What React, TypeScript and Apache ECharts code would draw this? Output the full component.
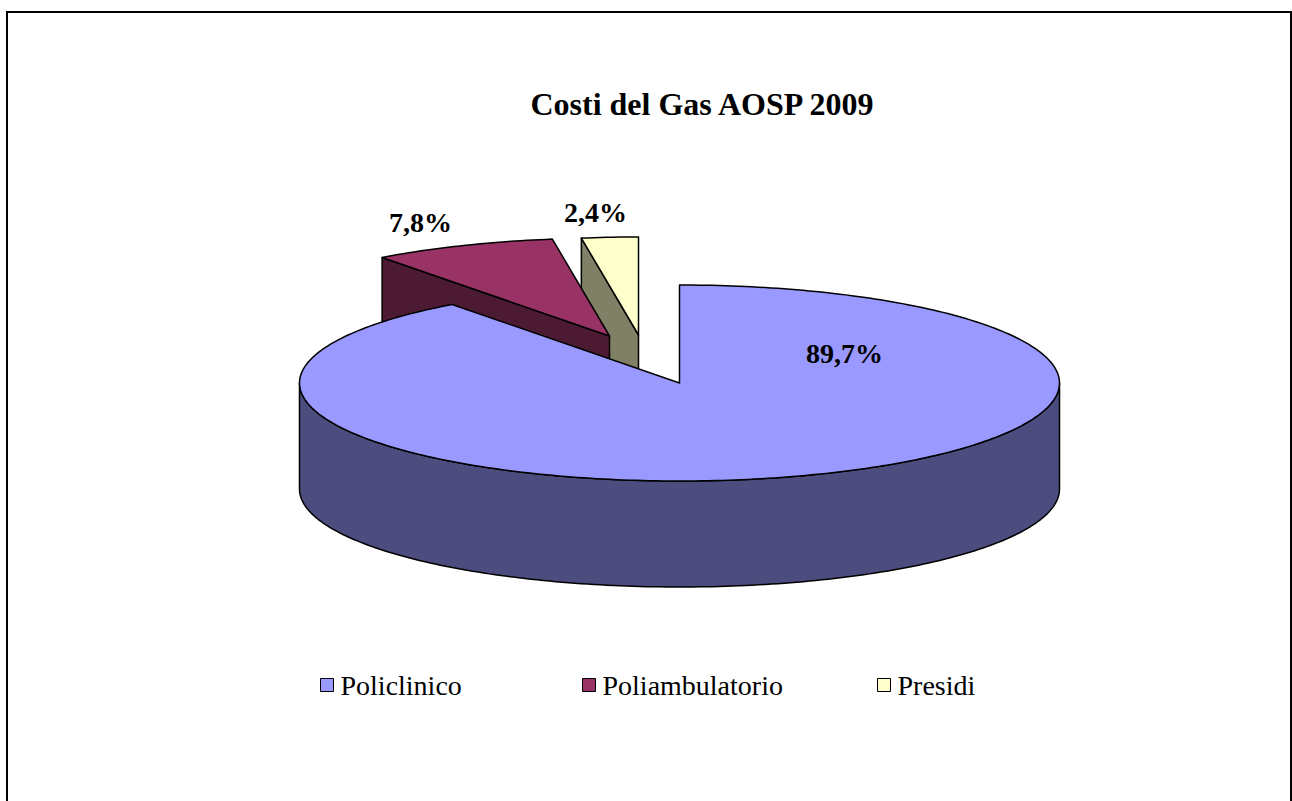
import React, { useEffect, useRef } from "react";
import * as echarts from "echarts";

// ---- data ----
const TITLE = "Costi del Gas AOSP 2009";
const CATEGORIES = ["Policlinico", "Poliambulatorio", "Presidi"];
const VALUES = [89.7, 7.8, 2.4];
const LABELS = ["89,7%", "7,8%", "2,4%"];

// ---- styles / layout ----
const TOP_COLORS = ["#9999FF", "#993366", "#FFFFCC"];
const SIDE_COLORS = ["#4C4C7F", "#4D1A33", "#808066"];
const EXPLODE = [
  [0, 0],
  [-70, -47],
  [-41, -48],
];
const LABEL_OFFSET = [
  [165, -30],
  [-189, -114],
  [-43, -123],
];
const LEGEND_LEFT = [320, 582, 877];
const CX = 679.5;
const CY = 383;
const RX = 380;
const RY = 98;
const DEPTH = 106;
const SERIF = "Liberation Serif";
const SERIF_LIST = "'Times New Roman', 'Liberation Serif', 'DejaVu Serif', serif";

function sliceAngles(idx: number) {
  const total = VALUES.reduce((a, b) => a + b, 0);
  let start = 0;
  for (let j = 0; j < idx; j++) start += (VALUES[j] / total) * Math.PI * 2;
  const end = start + (VALUES[idx] / total) * Math.PI * 2;
  return [start, end];
}

function makeRenderItem() {
  return (params: any, api: any) => {
    const i = api.value(0) as number;
    const [start, end] = sliceAngles(i);
    const ox = CX + EXPLODE[i][0];
    const oy = CY + EXPLODE[i][1];
    const pt = (t: number, dz = 0) => [ox + RX * Math.sin(t), oy - RY * Math.cos(t) + dz];
    const arc = (a: number, b: number, dz = 0) => {
      const n = Math.max(2, Math.ceil(((b - a) / (Math.PI * 2)) * 360));
      const pts: number[][] = [];
      for (let k = 0; k <= n; k++) pts.push(pt(a + ((b - a) * k) / n, dz));
      return pts;
    };
    const edge = { stroke: "#000", lineWidth: 1.5, lineJoin: "round" };
    const children: any[] = [];
    if (-Math.sin(start) > 1e-3) {
      children.push({
        type: "polygon",
        shape: { points: [[ox, oy], pt(start), pt(start, DEPTH), [ox, oy + DEPTH]] },
        style: { fill: SIDE_COLORS[i], ...edge },
      });
    }
    if (Math.sin(end) > 1e-3) {
      children.push({
        type: "polygon",
        shape: { points: [[ox, oy], pt(end), pt(end, DEPTH), [ox, oy + DEPTH]] },
        style: { fill: SIDE_COLORS[i], ...edge },
      });
    }
    const ws = Math.max(start, Math.PI / 2);
    const we = Math.min(end, (Math.PI * 3) / 2);
    if (we > ws) {
      const top = arc(ws, we);
      const bottom = arc(ws, we, DEPTH).reverse();
      children.push({
        type: "polygon",
        shape: { points: [...top, ...bottom] },
        style: { fill: SIDE_COLORS[i], ...edge },
      });
    }
    children.push({
      type: "polygon",
      shape: { points: [[ox, oy], ...arc(start, end)] },
      style: { fill: TOP_COLORS[i], ...edge },
    });
    children.push({
      type: "text",
      x: ox + LABEL_OFFSET[i][0],
      y: oy + LABEL_OFFSET[i][1],
      style: {
        text: LABELS[i],
        fill: "#000",
        fontSize: 28,
        fontWeight: "bold",
        fontFamily: SERIF,
        align: "center",
        verticalAlign: "middle",
      },
    });
    return { type: "group", children };
  };
}

export default function App() {
  const ref = useRef<HTMLDivElement>(null);
  useEffect(() => {
    if (!ref.current) return;
    const chart = echarts.init(ref.current, null, { renderer: "svg" });
    chart.setOption({
      animation: false,
      backgroundColor: "#fff",
      textStyle: { fontFamily: SERIF_LIST },
      title: {
        text: TITLE,
        left: 697,
        top: 83,
        textAlign: "center",
        textStyle: { fontSize: 32, fontWeight: "bold", fontFamily: SERIF, color: "#000" },
      },
      legend: CATEGORIES.map((name, i) => ({
        data: [name],
        left: LEGEND_LEFT[i],
        top: 671,
        padding: 0,
        itemWidth: 13,
        itemHeight: 13,
        itemGap: 0,
        icon: "rect",
        selectedMode: false,
        itemStyle: { borderColor: "#000", borderWidth: 1 },
        textStyle: {
          fontSize: 28,
          fontFamily: SERIF_LIST,
          fontWeight: 400,
          color: "#000",
          padding: [0, 0, 0, 2],
        },
      })),
      graphic: [
        {
          type: "rect",
          shape: { x: 7, y: 12, width: 1284, height: 820 },
          style: { fill: "none", stroke: "#000", lineWidth: 2 },
          silent: true,
        },
      ],
      series: CATEGORIES.map((name, i) => ({
        type: "custom",
        name,
        coordinateSystem: "none",
        z: 10 - i,
        itemStyle: { color: TOP_COLORS[i] },
        data: [[i]],
        renderItem: makeRenderItem(),
      })),
    });
    return () => chart.dispose();
  }, []);
  return (
    <div
      ref={ref}
      style={{ position: "fixed", left: 0, top: 0, width: 1292, height: 801 }}
    />
  );
}
